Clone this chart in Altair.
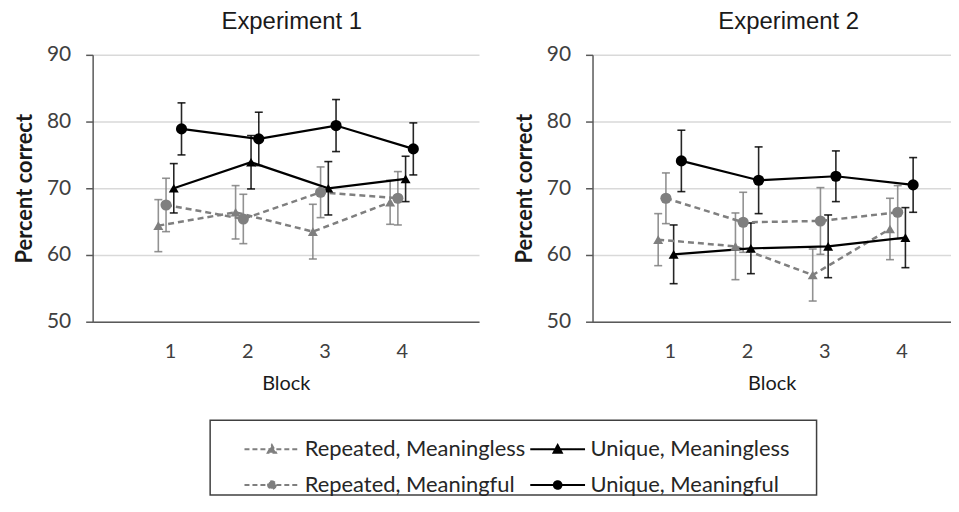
import altair as alt
import pandas as pd

# ---------------- data ----------------
blocks = [1, 2, 3, 4]
experiments = ["Experiment 1", "Experiment 2"]
series_names = ["Repeated, Meaningless", "Unique, Meaningless",
                "Repeated, Meaningful", "Unique, Meaningful"]

# Experiment 1 (mean percent correct, error bar half-width)
e1_rep_meaningless = [64.4, 66.4, 63.5, 67.9]
e1_rep_meaningless_err = [3.9, 4.0, 4.1, 3.3]
e1_rep_meaningful = [67.5, 65.4, 69.4, 68.5]
e1_rep_meaningful_err = [4.0, 3.7, 3.8, 4.0]
e1_uni_meaningless = [70.0, 73.9, 70.0, 71.4]
e1_uni_meaningless_err = [3.7, 4.0, 4.0, 3.4]
e1_uni_meaningful = [78.9, 77.4, 79.4, 75.9]
e1_uni_meaningful_err = [3.9, 4.0, 3.9, 3.9]

# Experiment 2
e2_rep_meaningless = [62.3, 61.3, 57.0, 63.9]
e2_rep_meaningless_err = [3.9, 5.0, 3.9, 4.6]
e2_rep_meaningful = [68.5, 64.9, 65.1, 66.4]
e2_rep_meaningful_err = [3.8, 4.5, 5.0, 4.0]
e2_uni_meaningless = [60.1, 61.0, 61.3, 62.6]
e2_uni_meaningless_err = [4.4, 3.8, 4.7, 4.5]
e2_uni_meaningful = [74.1, 71.2, 71.8, 70.5]
e2_uni_meaningful_err = [4.6, 5.0, 3.8, 4.1]

table = {
    ("Experiment 1", "Repeated, Meaningless"): (e1_rep_meaningless, e1_rep_meaningless_err),
    ("Experiment 1", "Repeated, Meaningful"): (e1_rep_meaningful, e1_rep_meaningful_err),
    ("Experiment 1", "Unique, Meaningless"): (e1_uni_meaningless, e1_uni_meaningless_err),
    ("Experiment 1", "Unique, Meaningful"): (e1_uni_meaningful, e1_uni_meaningful_err),
    ("Experiment 2", "Repeated, Meaningless"): (e2_rep_meaningless, e2_rep_meaningless_err),
    ("Experiment 2", "Repeated, Meaningful"): (e2_rep_meaningful, e2_rep_meaningful_err),
    ("Experiment 2", "Unique, Meaningless"): (e2_uni_meaningless, e2_uni_meaningless_err),
    ("Experiment 2", "Unique, Meaningful"): (e2_uni_meaningful, e2_uni_meaningful_err),
}
rows = []
for (exp, ser), (vals, errs) in table.items():
    for b, v, e in zip(blocks, vals, errs):
        rows.append({"experiment": exp, "series": ser, "block": b, "value": v, "err": e})
df = pd.DataFrame(rows)

# legend entries (2 columns x 2 rows, row-major)
legend_df = pd.DataFrame({
    "series": series_names,
    "col": [i % 2 for i in range(len(series_names))],
    "row": [i // 2 for i in range(len(series_names))],
})

# ---------------- styles ----------------
GRAY = "#7f7f7f"
BLACK = "#000000"
AXIS_COL = "#595959"
FONT = "Lato"

offset_expr = ("datum.block + (datum.series == 'Repeated, Meaningless' ? -0.15 : "
               "datum.series == 'Repeated, Meaningful' ? -0.05 : "
               "datum.series == 'Unique, Meaningless' ? 0.05 : 0.15)")

color_scale = alt.Scale(domain=series_names, range=[GRAY, BLACK, GRAY, BLACK])

# legend symbols: dashed/solid segment with marker (custom SVG paths, unit = half width)
tri_sym = "M-1,0H1M-0.15,0.13L0,-0.15L0.15,0.13Z"
cir_sym = "M-1,0H1M0.14,0A0.14,0.14,0,1,1,-0.14,0A0.14,0.14,0,1,1,0.14,0Z"


def panel(exp, width, xmax, title_dx):
    base = alt.Chart(df).transform_filter(
        alt.datum.experiment == exp
    ).transform_calculate(
        xpos=offset_expr, lo="datum.value - datum.err", hi="datum.value + datum.err"
    )
    xs = alt.Scale(domain=[0, xmax], nice=False, zero=False)
    ys = alt.Scale(domain=[50, 90], nice=False, zero=False)
    xaxis = alt.Axis(values=blocks, title="Block", grid=False, ticks=False,
                     labelPadding=20, titlePadding=12, format="d")
    yaxis = alt.Axis(values=[50, 60, 70, 80, 90], title="Percent correct",
                     grid=True, ticks=True, tickSize=7, labelPadding=15,
                     titlePadding=10, titleFontWeight="bold", titleFontSize=22,
                     labelFontSize=21)
    x = alt.X("xpos:Q", scale=xs, axis=xaxis)
    col = alt.Color("series:N", scale=color_scale, legend=None)

    rules = base.mark_rule(strokeWidth=1.6, opacity=0.85).encode(
        x=x, y=alt.Y("lo:Q", scale=ys, axis=yaxis), y2="hi:Q", color=col)
    cap_lo = base.mark_tick(orient="horizontal", size=8, thickness=1.6, opacity=0.85).encode(
        x=x, y=alt.Y("lo:Q", scale=ys, axis=yaxis), color=col)
    cap_hi = base.mark_tick(orient="horizontal", size=8, thickness=1.6, opacity=0.85).encode(
        x=x, y=alt.Y("hi:Q", scale=ys, axis=yaxis), color=col)
    dashed = base.transform_filter(
        "indexof(datum.series, 'Repeated') == 0"
    ).mark_line(strokeDash=[6, 4], strokeWidth=2.5).encode(
        x=x, y=alt.Y("value:Q", scale=ys, axis=yaxis), detail="series:N", color=col)
    solid = base.transform_filter(
        "indexof(datum.series, 'Unique') == 0"
    ).mark_line(strokeWidth=2.2).encode(
        x=x, y=alt.Y("value:Q", scale=ys, axis=yaxis), detail="series:N", color=col)
    tris = base.transform_filter(
        "indexof(datum.series, 'Meaningless') >= 0"
    ).mark_point(shape="triangle-up", filled=True, size=100, opacity=1).encode(
        x=x, y=alt.Y("value:Q", scale=ys, axis=yaxis), color=col)
    circs = base.transform_filter(
        "indexof(datum.series, 'Meaningful') >= 0"
    ).mark_point(shape="circle", filled=True, size=125, opacity=1).encode(
        x=x, y=alt.Y("value:Q", scale=ys, axis=yaxis), color=col)

    return alt.layer(rules, cap_lo, cap_hi, dashed, solid, tris, circs).properties(
        width=width, height=268,
        title=alt.TitleParams(exp, fontSize=24, font="Liberation Sans",
                              fontWeight="normal", color="#1a1a1a",
                              offset=10, dx=title_dx),
    )


p1 = panel("Experiment 1", 388, 5.0, 6)
p2 = panel("Experiment 2", 360, 4.64, 17)
panels = alt.hconcat(p1, p2, spacing=34).resolve_scale(x="independent", y="independent")

# ---------------- legend (drawn as its own small chart) ----------------
LEG_W, LEG_H = 609, 75
lx = alt.X("col:Q", scale=alt.Scale(domain=[-0.216, 1.906], nice=False, zero=False), axis=None)
ly = alt.Y("row:Q", scale=alt.Scale(domain=[-0.806, 1.278], nice=False, zero=False, reverse=True), axis=None)
leg_base = alt.Chart(legend_df)
leg_sym = leg_base.mark_point(filled=True, opacity=1, strokeWidth=2, size=3025).encode(
    x=lx, y=ly,
    color=alt.Color("series:N", scale=color_scale, legend=None),
    stroke=alt.Stroke("series:N", scale=alt.Scale(domain=series_names, range=[GRAY, BLACK, GRAY, BLACK]), legend=None),
    shape=alt.Shape("series:N", scale=alt.Scale(domain=series_names, range=[tri_sym, tri_sym, cir_sym, cir_sym]), legend=None),
    strokeDash=alt.StrokeDash("series:N", scale=alt.Scale(domain=series_names, range=[[5, 3], [1, 0], [5, 3], [1, 0]]), legend=None),
)
leg_txt = leg_base.mark_text(align="left", baseline="middle", dx=33, font=FONT,
                             fontSize=22, color="#262626").encode(
    x=lx, y=ly, text="series:N")
legend_box = alt.layer(leg_sym, leg_txt).properties(
    width=LEG_W, height=LEG_H,
    view=alt.ViewBackground(stroke="#404040", strokeWidth=1.5, fill="white"),
)
spacer = alt.Chart(pd.DataFrame({"s": [""]})).mark_text().encode(
    text="s:N").properties(width=117, height=1)
legend_row = alt.hconcat(spacer, legend_box, spacing=0)

chart = alt.vconcat(panels, legend_row, spacing=21).properties(
    padding={"left": 5, "top": 1, "right": 0, "bottom": 0}
).configure_view(
    stroke=None
).configure_axis(
    domainColor=AXIS_COL, domainWidth=1.5, tickColor=AXIS_COL, tickWidth=1.5,
    gridColor="#d9d9d9", gridWidth=1.5, labelFont=FONT, labelFontSize=20,
    labelColor="#404040", titleFont=FONT, titleFontSize=20, titleColor="#1a1a1a",
    titleFontWeight="normal",
)

chart.save("out.html", embed_options={"renderer": "svg", "actions": False})
